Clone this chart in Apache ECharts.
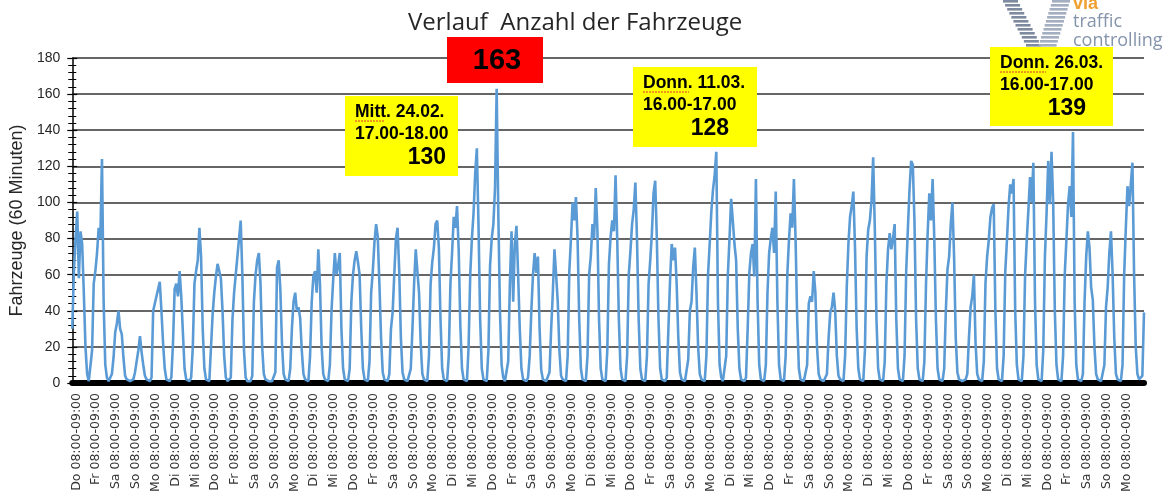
<!DOCTYPE html>
<html>
<head>
<meta charset="utf-8">
<title>Verlauf Anzahl der Fahrzeuge</title>
<script src="https://cdn.jsdelivr.net/npm/echarts@6/dist/echarts.min.js"></script>
<style>
html, body { margin: 0; padding: 0; background: #fff; }
#main { width: 1169px; height: 499px; }
</style>
</head>
<body>
<div id="main"></div>
<script>
var week1 = [
    30, 62, 80, 95, 58, 84, 77, 50, 20, 5, 1, 1,
    18, 55, 62, 72, 86, 80, 124, 45, 10, 3, 1, 1,
    5, 14, 28, 33, 40, 30, 27, 14, 4, 2, 1, 1,
    1, 2, 6, 12, 18, 26, 17, 10, 4, 2, 1, 1,
    3, 40, 44, 48, 52, 56, 40, 22, 8, 2, 1, 1,
    3, 22, 52, 55, 48, 62, 48, 28, 8, 2, 1, 1,
    3, 20, 55, 62, 68, 86, 70, 30, 8, 2, 1, 1
];
var week2 = [
    2, 38, 50, 59, 66, 62, 58, 40, 15, 3, 1, 1,
    3, 35, 50, 60, 70, 80, 90, 60, 18, 3, 1, 1,
    1, 4, 45, 60, 68, 72, 55, 20, 5, 2, 1, 1,
    1, 1, 2, 6, 64, 68, 52, 22, 5, 2, 1, 1,
    8, 30, 45, 50, 40, 42, 36, 18, 5, 2, 1, 1,
    15, 45, 59, 62, 50, 74, 55, 20, 5, 2, 1, 1,
    10, 40, 57, 72, 60, 65, 72, 30, 8, 2, 1, 1
];
var week3 = [
    8, 45, 60, 68, 73, 67, 60, 30, 8, 2, 1, 1,
    12, 50, 62, 78, 88, 81, 55, 25, 6, 2, 1, 1,
    5, 30, 39, 60, 80, 86, 62, 25, 6, 2, 1, 1,
    2, 8, 30, 55, 74, 62, 50, 22, 5, 2, 1, 1,
    15, 55, 67, 75, 88, 90, 75, 35, 8, 2, 1, 1,
    15, 55, 72, 92, 86, 98, 74, 32, 8, 2, 1, 1,
    20, 60, 80, 94, 116, 130, 88, 35, 8, 2, 1, 1
];
var week4 = [
    18, 65, 80, 88, 108, 163, 94, 40, 10, 3, 1, 1,
    12, 55, 84, 45, 77, 87, 60, 30, 8, 2, 1, 1,
    3, 15, 40, 60, 72, 61, 70, 30, 7, 2, 1, 1,
    2, 6, 30, 50, 74, 60, 45, 18, 4, 2, 1, 1,
    15, 62, 80, 100, 90, 103, 80, 35, 8, 2, 1, 1,
    15, 60, 70, 88, 80, 108, 85, 35, 8, 2, 1, 1,
    18, 66, 81, 90, 84, 115, 80, 35, 8, 2, 1, 1
];
var week5 = [
    15, 60, 73, 88, 96, 111, 79, 35, 8, 2, 1, 1,
    15, 55, 68, 83, 105, 112, 80, 35, 8, 2, 1, 1,
    3, 30, 57, 77, 68, 75, 55, 25, 6, 2, 1, 1,
    2, 13, 40, 45, 64, 75, 50, 20, 5, 2, 1, 1,
    15, 60, 77, 95, 107, 115, 128, 45, 10, 3, 1, 1,
    15, 60, 80, 102, 90, 77, 68, 30, 8, 2, 1, 1,
    3, 30, 61, 72, 77, 59, 113, 45, 10, 2, 1, 1
];
var week6 = [
    10, 50, 72, 80, 86, 72, 106, 45, 10, 2, 1, 1,
    15, 60, 79, 94, 86, 113, 80, 35, 8, 2, 1, 1,
    2, 10, 44, 48, 45, 62, 50, 20, 5, 2, 1, 1,
    1, 5, 25, 39, 42, 50, 40, 15, 4, 2, 1, 1,
    15, 53, 77, 92, 98, 106, 75, 30, 8, 2, 1, 1,
    18, 70, 85, 90, 101, 125, 85, 35, 8, 2, 1, 1,
    12, 55, 74, 83, 74, 80, 88, 35, 8, 2, 1, 1
];
var week7 = [
    15, 62, 85, 107, 123, 121, 90, 35, 8, 2, 1, 1,
    12, 55, 83, 105, 90, 113, 80, 35, 8, 2, 1, 1,
    8, 40, 63, 70, 88, 100, 70, 25, 6, 2, 1, 1,
    1, 2, 5, 25, 42, 48, 60, 22, 5, 2, 1, 1,
    12, 55, 70, 79, 92, 97, 99, 40, 8, 2, 1, 1,
    15, 62, 79, 98, 110, 105, 113, 40, 10, 2, 1, 1,
    15, 60, 79, 96, 114, 100, 122, 45, 10, 2, 1, 1
];
var week8 = [
    18, 70, 94, 123, 99, 128, 100, 40, 10, 2, 1, 1,
    15, 60, 79, 99, 109, 92, 139, 45, 10, 2, 1, 1,
    5, 45, 70, 84, 75, 53, 46, 20, 5, 2, 1, 1,
    2, 10, 42, 53, 72, 84, 60, 25, 5, 2, 1, 1,
    10, 60, 86, 109, 98, 110, 122, 60, 20, 5, 2, 1,
    4, 39
];

var weekdays = ['Do', 'Fr', 'Sa', 'So', 'Mo', 'Di', 'Mi'];
var labelTime = '08:00-09:00';
var firstLabel = 5;      // Stunde 08:00 am ersten Tag
var hoursPerDay = 24;

// Stundenachse: gemessene Werte jede 2. Stunde, dazwischen Lücke
var samples = [].concat(week1, week2, week3, week4, week5, week6, week7, week8);
var hourly = [];
for (var i = 0; i < samples.length; i++) {
    hourly.push(samples[i]);
    if (i < samples.length - 1) hourly.push(null);
}
var categories = hourly.map(function (v, h) { return String(h); });
var dayLabels = [];
for (var d = 0; firstLabel + d * hoursPerDay < hourly.length; d++) {
    dayLabels.push(weekdays[d % 7] + ' ' + labelTime);
}

var myChart = echarts.init(document.getElementById('main'));

var boxFont = 'bold 17.5px "Liberation Sans", Arial, sans-serif';
var bigFont = 'bold 23px "Liberation Sans", Arial, sans-serif';

function note(x, y, w, h, lines, value, valueRight) {
    return [{
        type: 'rect', shape: { x: x, y: y, width: w, height: h },
        style: { fill: '#ffff00' }, z: 10
    }, {
        type: 'text', x: x + 10, y: y + 16, z: 11,
        style: { text: lines[0], font: boxFont, fill: '#000', verticalAlign: 'middle' }
    }, {
        type: 'text', x: x + 10, y: y + 38, z: 11,
        style: { text: lines[1], font: boxFont, fill: '#000', verticalAlign: 'middle' }
    }, {
        type: 'text', x: valueRight, y: y + 62, z: 11,
        style: { text: value, font: bigFont, fill: '#000', align: 'right', verticalAlign: 'middle' }
    }, {
        // rote Rechtschreib-Wellenlinie
        type: 'line', z: 11,
        shape: { x1: x + 10, y1: y + 25, x2: x + 10 + (lines[0].indexOf('Mitt') === 0 ? 29 : 46), y2: y + 25 },
        style: { stroke: '#e03030', lineWidth: 1, lineDash: [2, 1] }
    }];
}

// Logo: gestreiftes "V" aus waagrechten Balken
var logo = [];
for (var s = 0; s < 12; s++) {
    var yy = s * 4;
    var t = yy / 46;
    logo.push({
        type: 'rect', z: 5,
        shape: { x: 1003 + t * 24, y: yy, width: 15, height: 2.6 },
        style: { fill: '#7d8aa0' }
    }, {
        type: 'rect', z: 5,
        shape: { x: 1052 - t * 14, y: yy, width: 18, height: 2.6 },
        style: { fill: '#a3aec0' }
    });
}
logo.push({
    type: 'text', x: 1073, y: 4, z: 5,
    style: { text: 'via', font: 'bold 18px "Liberation Sans", Arial, sans-serif', fill: '#f0a030', verticalAlign: 'middle' }
}, {
    type: 'text', x: 1073, y: 22, z: 5,
    style: { text: 'traffic', font: '18px "Open Sans", sans-serif', fill: '#8494ab', verticalAlign: 'middle' }
}, {
    type: 'text', x: 1073, y: 41, z: 5,
    style: { text: 'controlling', font: '18px "Open Sans", sans-serif', fill: '#8494ab', verticalAlign: 'middle' }
});

var graphics = [].concat(
    note(345, 96, 113, 80, ['Mitt. 24.02.', '17.00-18.00'], '130', 446),
    note(633, 67, 124, 80, ['Donn. 11.03.', '16.00-17.00'], '128', 729),
    note(990, 47, 123, 79, ['Donn. 26.03.', '16.00-17.00'], '139', 1086),
    [{
        type: 'rect', shape: { x: 447, y: 37, width: 96, height: 46 },
        style: { fill: '#ff0000' }, z: 10
    }, {
        type: 'text', x: 497, y: 61, z: 11,
        style: { text: '163', font: 'bold 29px "Liberation Sans", Arial, sans-serif', fill: '#000', align: 'center', verticalAlign: 'middle' }
    }],
    logo
);

var option = {
    animation: false,
    backgroundColor: '#fff',
    title: {
        text: 'Verlauf  Anzahl der Fahrzeuge',
        left: 403,
        top: 6,
        textStyle: { fontFamily: '"Open Sans", sans-serif', fontSize: 24, fontWeight: 'normal', color: '#262626' }
    },
    grid: { left: 68, right: 25, top: 58, bottom: 116 },
    xAxis: {
        type: 'category',
        data: categories,
        boundaryGap: false,
        axisLine: { lineStyle: { color: '#000', width: 6 } },
        axisTick: { show: false },
        axisLabel: {
            rotate: 90,
            margin: 10,
            fontSize: 12.5,
            fontFamily: '"DejaVu Sans", sans-serif',
            color: '#333',
            interval: function (index) {
                return index >= firstLabel && (index - firstLabel) % hoursPerDay === 0;
            },
            formatter: function (value, index) {
                return dayLabels[(index - firstLabel) / hoursPerDay];
            }
        },
        splitLine: { show: false }
    },
    yAxis: [{
        type: 'value',
        min: 0,
        max: 180,
        interval: 20,
        name: 'Fahrzeuge (60 Minuten)',
        nameLocation: 'middle',
        nameGap: 41,
        nameTextStyle: { fontFamily: '"Liberation Sans", Arial, sans-serif', fontSize: 18, color: '#262626' },
        axisLine: { show: true, lineStyle: { color: '#000', width: 1.5 } },
        axisTick: { show: true, length: 5, lineStyle: { color: '#000', width: 1.2 } },
        minorTick: { show: true, splitNumber: 5, length: 4, lineStyle: { color: '#000', width: 1 } },
        axisLabel: { fontFamily: '"Liberation Sans", Arial, sans-serif', fontSize: 14, color: '#262626', margin: 12 },
        splitLine: { show: true, lineStyle: { color: '#333', width: 1.6 } }
    }, {
        type: 'value',
        position: 'left',
        min: 0,
        max: 180,
        interval: 20,
        axisLine: { show: false },
        axisTick: { show: true, inside: true, length: 5, lineStyle: { color: '#000', width: 1.2 } },
        minorTick: { show: true, splitNumber: 5, length: 4, lineStyle: { color: '#000', width: 1 } },
        axisLabel: { show: false },
        splitLine: { show: false }
    }],
    series: [{
        type: 'line',
        data: hourly,
        connectNulls: true,
        showSymbol: false,
        symbol: 'none',
        lineStyle: { color: '#5b9bd5', width: 2.6 },
        z: 3
    }],
    graphic: graphics
};

myChart.setOption(option);
</script>
</body>
</html>
